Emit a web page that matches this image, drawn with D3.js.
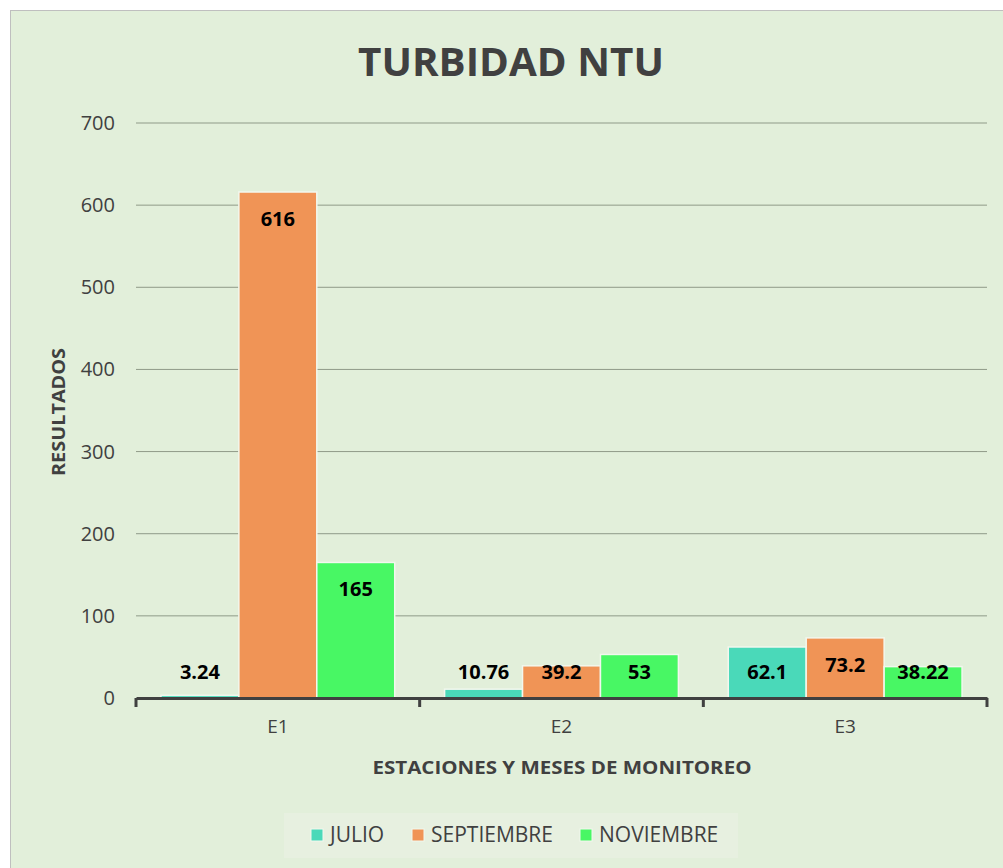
<!DOCTYPE html>
<html>
<head>
<meta charset="utf-8">
<script src="https://cdn.jsdelivr.net/npm/d3@7"></script>
<style>
  body { margin: 0; background: #fff; }
  text { font-family: "Open Sans", sans-serif; }
</style>
</head>
<body>
<div id="chart"></div>
<script>
const stations = ["E1", "E2", "E3"];
const months = ["JULIO", "SEPTIEMBRE", "NOVIEMBRE"];
const julio = [3.24, 10.76, 62.1];
const septiembre = [616, 39.2, 73.2];
const noviembre = [165, 53, 38.22];
const yTicks = [0, 100, 200, 300, 400, 500, 600, 700];
const colors = ["#4ad9b9", "#f09456", "#48f764"];

const W = 1003, H = 868;
const margin = { top: 123, right: 16, bottom: 170, left: 136 };
const width = W - margin.left - margin.right;
const height = H - margin.top - margin.bottom;

const series = [julio, septiembre, noviembre];
const rows = stations.map((s, i) => ({ station: s, values: series.map(v => v[i]) }));

const svg = d3.select("#chart").append("svg")
    .attr("width", W)
    .attr("height", H);

// fondo y borde del grafico
svg.append("rect")
    .attr("x", 10.5).attr("y", 10.5)
    .attr("width", W).attr("height", H)
    .attr("fill", "#e2efda")
    .attr("stroke", "#bfbfbf");

const g = svg.append("g")
    .attr("transform", `translate(${margin.left},${margin.top})`);

const x0 = d3.scaleBand().domain(stations).range([0, width]).paddingInner(0).paddingOuter(0);
const x1 = d3.scaleBand().domain(months).range([0, x0.bandwidth()]).paddingInner(0).paddingOuter(0.32);
const y = d3.scaleLinear().domain([0, 700]).range([height, 0]);

// lineas de cuadricula
g.append("g")
    .selectAll("line")
    .data(yTicks.filter(t => t > 0))
    .enter().append("line")
    .attr("x1", 0).attr("x2", width)
    .attr("y1", d => y(d)).attr("y2", d => y(d))
    .attr("stroke", "#8f9a88")
    .attr("stroke-width", 1);

// etiquetas del eje y
g.append("g")
    .selectAll("text")
    .data(yTicks)
    .enter().append("text")
    .attr("x", -21)
    .attr("y", d => y(d))
    .attr("dy", "0.35em")
    .attr("text-anchor", "end")
    .attr("fill", "#404040")
    .style("font-size", "20px")
    .text(d => d);

// barras
const groups = g.selectAll(".grp")
    .data(rows)
    .enter().append("g")
    .attr("class", "grp")
    .attr("transform", d => `translate(${x0(d.station)},0)`);

groups.selectAll("rect")
    .data(d => d.values.map((v, i) => ({ month: months[i], value: v, i: i })))
    .enter().append("rect")
    .attr("x", d => x1(d.month))
    .attr("y", d => y(d.value))
    .attr("width", x1.bandwidth())
    .attr("height", d => height - y(d.value))
    .attr("fill", d => colors[d.i])
    .attr("stroke", "#f2f7ee")
    .attr("stroke-width", 1.5);

groups.selectAll(".lbl")
    .data(d => d.values.map((v, i) => ({ month: months[i], value: v, i: i })))
    .enter().append("text")
    .attr("class", "lbl")
    .attr("x", d => x1(d.month) + x1.bandwidth() / 2)
    .attr("y", d => Math.min(y(d.value) + 27, height - 26))
    .attr("dy", "0.35em")
    .attr("text-anchor", "middle")
    .attr("fill", "#000")
    .style("font-size", "20px")
    .style("font-weight", "bold")
    .text(d => d.value);

// eje x
const xAxis = g.append("g")
    .attr("transform", `translate(0,${height})`)
    .call(d3.axisBottom(x0).tickSize(0).tickPadding(22));
xAxis.select(".domain").attr("stroke", "#404040").attr("stroke-width", 3);
xAxis.selectAll("text")
    .attr("fill", "#404040")
    .style("font-size", "19px")
    .style("font-family", "Open Sans, sans-serif");

g.append("g")
    .selectAll("line")
    .data([0, 1, 2, 3])
    .enter().append("line")
    .attr("x1", d => d * x0.step()).attr("x2", d => d * x0.step())
    .attr("y1", height).attr("y2", height + 9)
    .attr("stroke", "#404040")
    .attr("stroke-width", 3);

// titulos de ejes
svg.append("text")
    .attr("x", 562)
    .attr("y", 768)
    .attr("dy", "0.35em")
    .attr("text-anchor", "middle")
    .attr("fill", "#404040")
    .style("font-size", "18px")
    .style("font-weight", "bold")
    .attr("textLength", 379)
    .attr("lengthAdjust", "spacingAndGlyphs")
    .text("ESTACIONES Y MESES DE MONITOREO");

svg.append("text")
    .attr("transform", "translate(59,412) rotate(-90)")
    .attr("dy", "0.35em")
    .attr("text-anchor", "middle")
    .attr("fill", "#404040")
    .style("font-size", "18px")
    .style("font-weight", "bold")
    .attr("textLength", 128)
    .attr("lengthAdjust", "spacingAndGlyphs")
    .text("RESULTADOS");

// titulo
svg.append("text")
    .attr("x", 511)
    .attr("y", 62)
    .attr("dy", "0.35em")
    .attr("text-anchor", "middle")
    .attr("fill", "#404040")
    .style("font-size", "40px")
    .style("font-weight", "bold")
    .attr("textLength", 306)
    .attr("lengthAdjust", "spacingAndGlyphs")
    .text("TURBIDAD NTU");

// leyenda
const legend = svg.append("g");
legend.append("rect")
    .attr("x", 284).attr("y", 813)
    .attr("width", 454).attr("height", 45)
    .attr("fill", "#e7f0e0");

const legendX = [311, 412, 580];
months.forEach((m, i) => {
    legend.append("rect")
        .attr("x", legendX[i]).attr("y", 829)
        .attr("width", 12).attr("height", 12)
        .attr("fill", colors[i])
        .attr("stroke", "#f2f7ee");
    legend.append("text")
        .attr("x", legendX[i] + 19)
        .attr("y", 835)
        .attr("dy", "0.35em")
        .attr("fill", "#404040")
        .style("font-size", "21px")
        .text(m);
});
</script>
</body>
</html>
